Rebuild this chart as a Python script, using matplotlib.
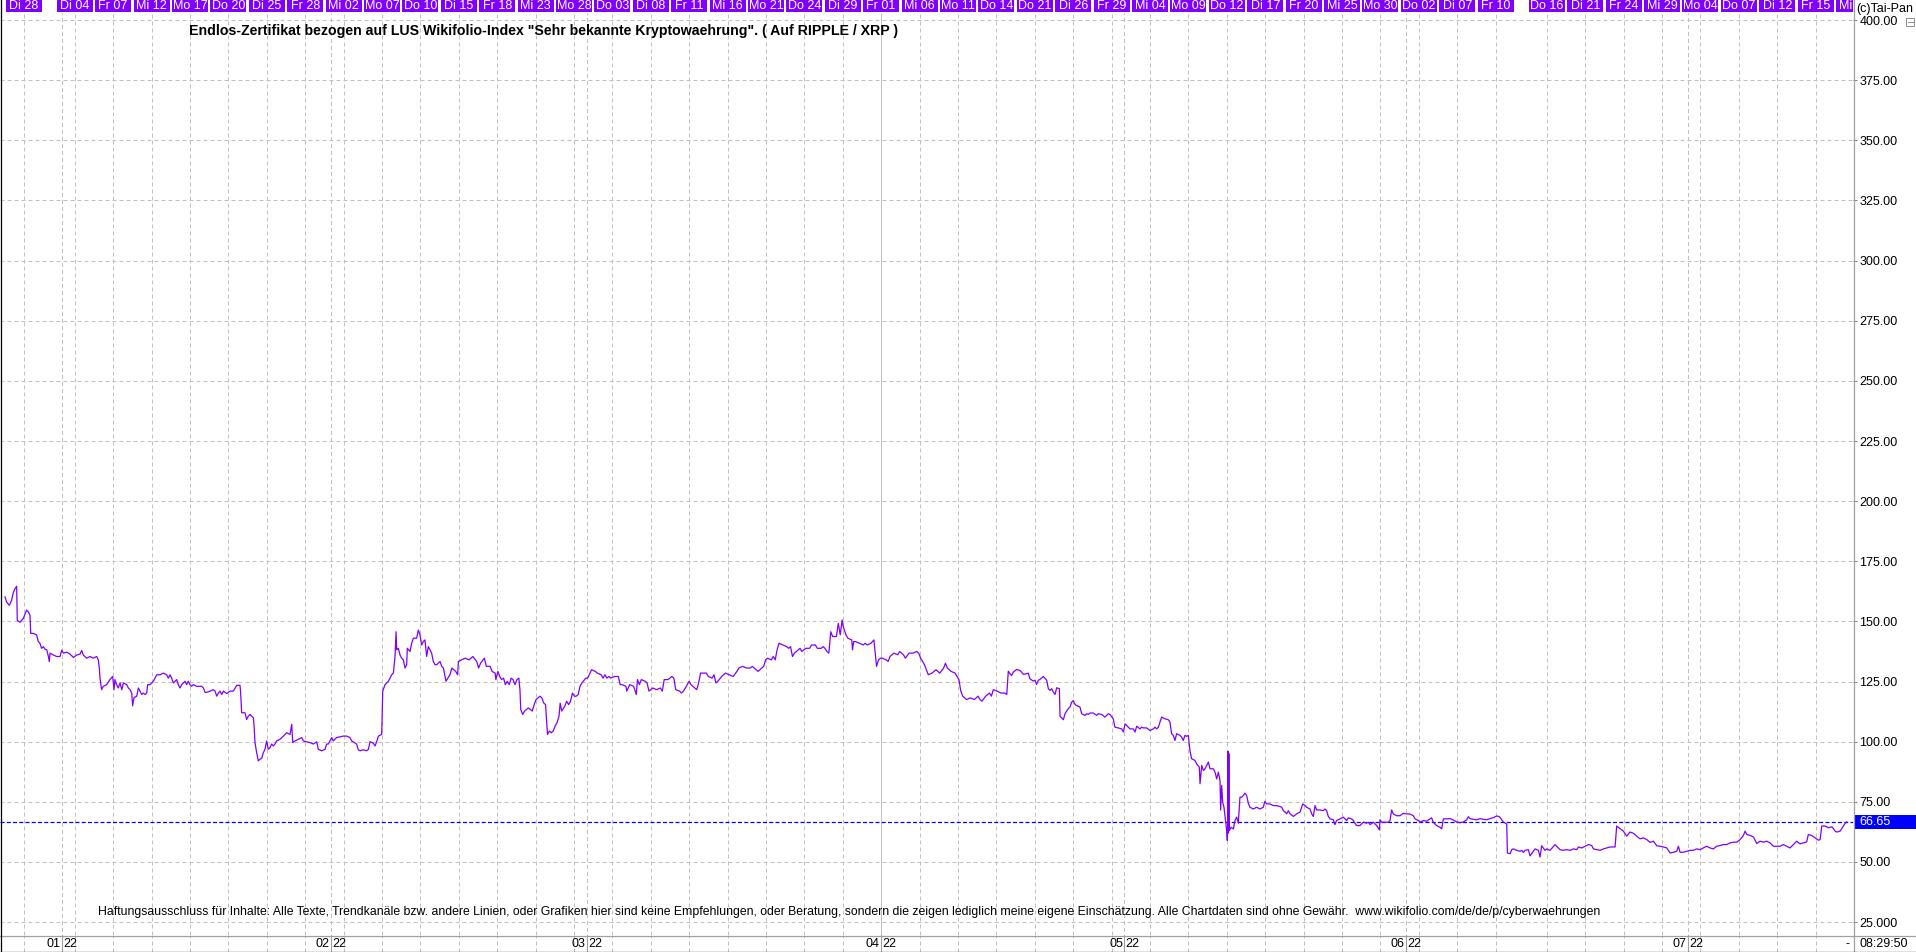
import numpy as np
import pandas as pd
import matplotlib
matplotlib.use("Agg")
import matplotlib.pyplot as plt
from matplotlib.patches import Rectangle
from matplotlib.lines import Line2D
import matplotlib.transforms as mtransforms

plt.rcParams["font.family"] = ["Liberation Sans", "DejaVu Sans"]

W, H = 1916, 952

# Handelskalender (Index 0 = 03.01.2022)
feiertage = ["2021-12-31", "2022-04-15", "2022-04-18"]
handelstage = pd.bdate_range("2021-12-27", "2022-07-22").difference(pd.to_datetime(feiertage))
start_tag = "2022-01-03"

# Datumsleiste oben (jeder dritte Handelstag)
leisten_daten = [
    "2021-12-28", "2022-01-04", "2022-01-07", "2022-01-12", "2022-01-17", "2022-01-20",
    "2022-01-25", "2022-01-28", "2022-02-02", "2022-02-07", "2022-02-10", "2022-02-15",
    "2022-02-18", "2022-02-23", "2022-02-28", "2022-03-03", "2022-03-08", "2022-03-11",
    "2022-03-16", "2022-03-21", "2022-03-24", "2022-03-29", "2022-04-01", "2022-04-06",
    "2022-04-11", "2022-04-14", "2022-04-21", "2022-04-26", "2022-04-29", "2022-05-04",
    "2022-05-09", "2022-05-12", "2022-05-17", "2022-05-20", "2022-05-25", "2022-05-30",
    "2022-06-02", "2022-06-07", "2022-06-10", "2022-06-16", "2022-06-21", "2022-06-24",
    "2022-06-29", "2022-07-04", "2022-07-07", "2022-07-12", "2022-07-15", "2022-07-20",
]
wochentage = ["Mo", "Di", "Mi", "Do", "Fr"]

# Kursverlauf: Position in Handelstagen ab 03.01.2022, Kurs
tage = [
    -4.45, -4.32, -4.11, -3.93, -3.80, -3.67, -3.54, -3.49, -3.28, -3.02, -2.76, -2.63, -2.50, -2.44,
    -2.24, -1.98, -1.85, -1.72, -1.59, -1.45, -1.32, -1.19, -1.06, -0.99, -0.93, -0.67, -0.41, -0.15,
    -0.02, 0.11, 0.37, 0.63, 0.89, 1.15, 1.41, 1.54, 1.67, 1.93, 2.19, 2.45, 2.71, 2.84, 2.92, 2.97,
    3.10, 3.23, 3.49, 3.75, 3.96, 4.07, 4.14, 4.27, 4.40, 4.54, 4.67, 4.80, 5.06, 5.19, 5.32, 5.45,
    5.52, 5.63, 5.84, 5.97, 6.10, 6.23, 6.36, 6.49, 6.62, 6.70, 6.88, 7.14, 7.40, 7.66, 7.92, 8.18,
    8.31, 8.44, 8.57, 8.70, 8.96, 9.09, 9.22, 9.35, 9.48, 9.61, 9.74, 9.87, 10.00, 10.13, 10.26,
    10.52, 10.79, 10.92, 11.05, 11.18, 11.31, 11.57, 11.83, 11.96, 12.09, 12.22, 12.35, 12.48,
    12.61, 12.87, 13.13, 13.39, 13.65, 13.91, 13.96, 14.04, 14.30, 14.43, 14.56, 14.69, 14.82,
    14.95, 15.00, 15.08, 15.21, 15.34, 15.47, 15.60, 15.73, 15.86, 15.99, 16.12, 16.25, 16.38,
    16.51, 16.64, 16.77, 17.04, 17.30, 17.56, 17.82, 17.95, 18.03, 18.21, 18.47, 18.73, 18.86,
    19.12, 19.38, 19.64, 19.90, 20.03, 20.29, 20.55, 20.68, 20.81, 21.07, 21.20, 21.46, 21.72,
    21.98, 22.24, 22.50, 22.63, 22.76, 23.02, 23.15, 23.28, 23.54, 23.80, 23.94, 24.07, 24.33,
    24.46, 24.59, 24.72, 24.98, 25.06, 25.24, 25.50, 25.63, 25.76, 25.89, 26.02, 26.10, 26.15,
    26.28, 26.41, 26.54, 26.67, 26.80, 26.93, 26.98, 27.19, 27.32, 27.45, 27.71, 27.84, 27.97,
    28.10, 28.23, 28.36, 28.49, 28.62, 28.75, 28.88, 29.01, 29.14, 29.27, 29.54, 29.67, 29.80,
    30.00,
    30.31, 30.46, 30.61, 30.76, 30.91, 30.97, 31.21, 31.51, 31.80, 32.10, 32.40, 32.55, 32.70,
    33.00, 33.15, 33.45, 33.60, 33.84, 33.90, 34.05, 34.20, 34.35, 34.50, 34.64, 34.79, 34.94,
    35.09, 35.24, 35.39, 35.54, 35.69, 35.78, 35.84, 35.99, 36.14, 36.29, 36.44, 36.59, 36.74,
    36.89, 37.04, 37.19, 37.34, 37.49, 37.63, 37.78, 37.93, 38.08, 38.23, 38.38, 38.53, 38.68,
    38.83, 38.92, 39.04, 39.28, 39.43, 39.58, 39.73, 39.88, 40.03, 40.18, 40.33, 40.47, 40.62,
    40.92, 41.07, 41.37, 41.67, 41.82, 42.12, 42.27, 42.42, 42.57, 42.72, 42.87, 43.16, 43.46,
    43.61, 43.76, 44.06, 44.12, 44.36, 44.66, 44.87, 44.96, 45.11, 45.26, 45.56, 45.71, 45.86,
    46.15, 46.45, 46.75, 46.90, 47.05, 47.35, 47.65, 47.80, 47.95, 48.25, 48.40, 48.55, 48.70,
    48.85, 49.00, 49.14, 49.44, 49.59, 49.74, 49.89, 50.34, 50.49, 50.79, 50.94, 51.09, 51.24,
    51.54, 51.83, 52.13, 52.43, 52.73, 52.88, 53.18, 53.48, 53.78, 53.93, 54.23, 54.38, 54.53,
    54.82, 54.97, 55.12, 55.42, 55.57, 55.72, 55.87, 56.02, 56.32, 56.62, 56.77, 56.92, 57.07,
    57.22, 57.52, 57.66, 57.81, 58.11, 58.41, 58.56, 58.86, 59.01, 59.31, 59.46, 59.61, 59.76,
    59.91, 60.06, 60.21, 60.50, 60.65, 60.80, 60.95, 61.04, 61.25, 61.40, 61.70, 61.76, 61.85,
    62.00, 62.30, 62.60, 62.75, 62.90, 63.20, 63.43, 63.55, 63.64, 63.79, 63.94, 64.09, 64.39,
    64.54, 64.69, 64.99, 65.29, 65.44, 65.59, 65.74, 65.89, 66.18, 66.48, 66.78, 66.93, 67.08,
    67.38, 67.53, 67.68, 67.98, 68.28, 68.58, 68.88, 69.02, 69.17, 69.47, 69.77, 70.07, 70.22,
    70.37, 70.67, 70.97, 71.27, 71.57, 71.72, 71.87, 72.16, 72.46, 72.61, 72.76, 73.06, 73.36,
    73.66, 73.81,
    73.93, 74.06, 74.19, 74.32, 74.58, 74.84, 74.97, 75.10, 75.36, 75.49, 75.62, 75.88, 76.01,
    76.14, 76.27, 76.41, 76.67, 76.93, 77.06, 77.19, 77.32, 77.45, 77.58, 77.71, 77.92, 77.97,
    78.10, 78.23, 78.36, 78.49, 78.62, 78.75, 78.88, 79.01, 79.14, 79.27, 79.53, 79.66, 79.92,
    80.05, 80.18, 80.31, 80.57, 80.83, 80.96, 81.22, 81.48, 81.61, 81.74, 81.87, 82.13, 82.26,
    82.52, 82.79, 82.92, 83.05, 83.18, 83.44, 83.70, 83.83, 83.96, 84.22, 84.35, 84.48, 84.74,
    85.00, 85.26, 85.39, 85.52, 85.65, 85.91, 86.17, 86.43, 86.56, 86.69, 86.82, 86.95, 87.08,
    87.34, 87.47, 87.60, 87.73, 87.86, 87.99, 88.12, 88.25, 88.51, 88.64, 88.85, 88.91, 89.04,
    89.17, 89.30, 89.43, 89.56, 89.69, 89.95, 90.08, 90.21, 90.34, 90.47, 90.52, 90.60, 90.68,
    90.78, 90.99, 91.04, 91.07, 91.10, 91.13, 91.16, 91.19, 91.33, 91.51, 91.64, 91.77, 91.90,
    92.03, 92.16, 92.29, 92.42, 92.55, 92.68, 92.81, 93.07, 93.33, 93.59, 93.85, 93.98, 94.11,
    94.37, 94.63, 94.90, 95.16, 95.29, 95.42, 95.55, 95.68, 95.81, 95.94, 96.20, 96.46, 96.72,
    96.93, 97.11, 97.24, 97.50, 97.63, 97.76, 97.89, 98.02, 98.28, 98.54, 98.67, 98.80, 98.93,
    99.06, 99.32, 99.45, 99.58, 99.84, 100.10, 100.36, 100.49, 100.75, 100.88, 101.01, 101.14,
    101.40, 101.66, 101.93, 102.06, 102.19, 102.45, 102.71, 102.92, 102.97, 103.10, 103.36,
    103.62, 103.75, 103.88, 104.01, 104.27, 104.53, 104.79, 105.05, 105.31, 105.57, 105.70,
    105.96, 106.09, 106.35, 106.61, 106.87, 107.00, 107.13, 107.39, 107.66, 107.79, 107.92,
    108.18,
    108.44, 108.70, 108.96, 109.22, 109.48, 109.74, 109.87, 110.00, 110.26, 110.52, 110.78,
    111.04, 111.30, 111.57, 111.83, 112.09, 112.29, 112.48, 112.61, 112.87, 112.92, 113.13,
    113.26, 113.39, 113.65, 113.91, 114.04, 114.17, 114.30, 114.56, 114.69, 114.95, 115.08,
    115.34, 115.47, 115.60, 115.86, 115.99, 116.25, 116.64, 116.77, 117.03, 117.29, 117.55,
    117.82, 118.08, 118.34, 118.47, 118.73, 118.99, 119.25, 119.51, 119.64, 119.90, 120.16,
    120.42, 120.68, 120.94, 121.33, 121.46, 121.72, 121.98, 122.24, 122.50, 122.76, 123.02,
    123.28, 123.54, 123.80, 124.07, 124.33, 124.59, 124.85, 125.11, 125.37, 125.63, 125.89,
    126.15, 126.28, 126.41, 126.67, 126.93, 127.19, 127.45, 127.71, 127.97, 128.23, 128.49,
    128.75, 129.01, 129.27, 129.53, 129.79, 130.05, 130.32, 130.58, 130.84, 131.10, 131.36,
    131.49, 131.62, 131.88, 132.14, 132.40, 132.66, 132.92, 133.18, 133.44, 133.57, 133.70,
    133.96, 134.22, 134.48, 134.74, 135.00, 135.26, 135.52, 135.78, 136.04, 136.30, 136.43,
    136.69, 136.95, 137.22, 137.35, 137.48, 137.74, 138.00, 138.26, 138.39, 138.52, 138.65,
    138.91, 139.04, 139.17, 139.30, 139.43,
]
kurs = [
    160.2, 158.0, 156.7, 158.8, 162.0, 163.6, 164.6, 150.5, 149.6, 151.2, 154.7, 154.0, 152.6, 145.0,
    145.0, 144.4, 141.6, 140.9, 138.8, 139.5, 138.4, 138.2, 135.4, 133.3, 136.8, 136.0, 135.4, 135.4,
    138.0, 136.8, 137.2, 136.4, 135.0, 136.0, 136.4, 137.9, 136.0, 134.7, 135.4, 134.7, 135.4, 134.0,
    130.6, 126.4, 121.6, 123.0, 123.7, 125.8, 127.1, 121.6, 125.8, 123.7, 122.3, 124.4, 121.6, 124.4,
    123.7, 122.3, 121.6, 120.2, 114.9, 118.3, 118.9, 122.3, 120.9, 119.6, 120.2, 119.6, 120.2, 123.7,
    123.7, 125.1, 127.8, 127.8, 128.5, 127.8, 126.4, 127.8, 126.4, 124.4, 125.8, 123.7, 122.3, 123.7,
    124.4, 125.1, 123.7, 125.1, 123.7, 123.0, 123.7, 123.0, 123.0, 123.0, 122.3, 120.5, 120.5, 121.0,
    121.6, 121.0, 118.9, 120.2, 121.0, 119.6, 121.0, 120.0, 121.0, 121.0, 123.4, 123.4, 120.2, 112.0,
    112.0, 109.2, 110.6, 111.3, 110.6, 109.9, 107.2, 99.6, 95.4, 92.0, 92.7, 93.0, 95.4, 96.8, 100.3,
    96.8, 97.5, 99.0, 98.2, 99.0, 100.3, 101.0, 102.3, 103.7, 103.0, 107.2, 99.6, 100.3, 101.0, 101.7,
    100.3, 99.9, 99.6, 99.0, 99.9, 96.8, 96.2, 96.8, 99.0, 99.0, 101.7, 100.3, 101.7, 102.0, 102.3,
    102.3, 101.7, 100.3, 99.9, 99.0, 96.6, 96.2, 96.6, 96.2, 96.8, 100.0, 99.3, 98.2, 100.0, 102.3,
    103.0, 121.0, 123.7, 125.1, 126.4, 127.8, 128.5, 135.4, 145.7, 138.2, 138.8, 136.0, 134.7, 134.0,
    130.6, 132.0, 138.8, 137.5, 140.9, 143.0, 143.0, 146.4, 144.4, 140.2, 141.6, 142.3, 135.4, 139.5,
    138.2, 136.8, 133.3, 132.0, 132.0, 133.3, 131.3, 130.6, 125.1,
    127.8, 130.6, 129.9, 129.2, 127.8, 133.3, 134.0, 134.7, 134.0, 135.4, 133.3, 130.6, 132.6, 134.7,
    131.3, 131.3, 129.2, 128.5, 125.8, 129.2, 127.1, 125.8, 126.4, 123.7, 125.1, 123.7, 126.4, 125.8,
    123.7, 125.8, 126.4, 121.6, 113.4, 111.3, 112.7, 113.4, 114.0, 113.4, 112.7, 115.4, 117.5, 118.2,
    118.9, 118.2, 116.1, 115.4, 103.0, 104.4, 103.7, 104.4, 106.5, 107.9, 110.6, 116.0, 112.7, 114.7,
    116.8, 115.4, 116.8, 120.2, 118.9, 118.9, 119.6, 123.0, 124.4, 126.4, 126.4, 129.9, 129.2, 128.5,
    127.8, 126.4, 127.8, 126.4, 127.1, 126.4, 127.1, 127.1, 123.7, 123.7, 123.0, 121.0, 123.7, 123.0,
    119.6, 125.8, 123.7, 125.8, 125.1, 124.4, 121.0, 122.3, 121.6, 122.3, 121.0, 125.8, 125.8, 127.1,
    126.4, 121.6, 121.0, 120.2, 121.0, 122.3, 123.7, 125.1, 123.7, 122.3, 121.6, 124.4, 128.5, 128.5,
    127.1, 126.4, 127.8, 124.4, 125.1, 127.1, 128.5, 127.8, 127.1, 129.2, 130.6, 131.3, 130.6, 130.6,
    131.3, 129.9, 129.2, 129.9, 131.3, 134.0, 134.7, 134.0, 135.4, 134.0, 138.2, 140.9, 140.2, 139.5,
    138.8, 139.5, 135.4, 136.8, 138.2, 138.8, 137.5, 138.8, 138.8, 140.2, 140.2, 138.8, 138.8, 139.5,
    138.8, 137.5, 136.8, 145.7, 143.7, 143.7, 149.2, 144.4, 150.6, 147.8, 144.4, 143.0, 142.3, 138.2,
    141.6, 141.6, 140.9, 140.2, 140.9, 140.2, 140.9, 142.3, 136.1, 131.3, 134.0, 134.7, 134.7, 134.0,
    133.3, 135.4, 136.8, 136.1, 137.5, 136.8, 136.1, 134.7, 136.8, 136.8, 137.5, 136.8, 134.7, 132.0,
    129.9, 127.8, 128.5, 129.9, 128.5, 130.6, 132.6, 130.6, 129.2, 128.5, 125.8, 121.0, 118.9, 117.5,
    118.2, 117.5, 118.9, 117.5, 116.8, 118.9, 120.2, 118.9, 121.6, 121.0, 120.2, 120.2, 119.6,
    129.3, 128.2, 127.5, 128.9, 130.0, 129.6, 128.9, 128.0, 128.2, 128.5, 126.1, 125.2, 125.5, 123.8,
    125.5, 125.9, 127.1, 125.5, 122.0, 121.3, 122.0, 120.6, 119.6, 122.4, 122.0, 110.5, 109.9, 109.1,
    111.6, 112.7, 113.7, 114.4, 116.4, 117.1, 115.5, 115.0, 114.4, 111.6, 110.9, 111.6, 111.3, 111.9,
    111.9, 110.9, 111.6, 111.3, 110.2, 110.9, 111.6, 111.3, 109.5, 106.0, 105.7, 105.3, 104.0, 107.4,
    106.7, 105.3, 105.3, 104.0, 106.4, 105.3, 106.0, 105.7, 105.7, 104.6, 105.3, 106.0, 105.3, 106.0,
    110.2, 109.5, 109.1, 108.1, 103.3, 102.6, 100.5, 103.3, 102.6, 101.9, 100.5, 102.6, 102.2, 102.6,
    96.3, 92.9, 92.2, 90.8, 89.4, 82.5, 90.1, 88.0, 88.7, 90.1, 91.5, 88.7, 88.7, 87.3, 84.5, 87.3,
    83.8, 71.6, 81.8, 74.8, 72.7, 63.0, 58.9, 64.4, 96.0, 62.0, 95.0, 63.0, 64.4, 63.7, 67.2, 68.6,
    66.1, 76.9, 76.9, 77.6, 78.6, 77.6, 74.4, 72.7, 72.0, 72.7, 72.0, 72.7, 75.2, 74.1, 74.1, 73.4,
    73.4, 73.0, 72.7, 71.3, 70.7, 70.0, 71.3, 70.0, 68.9, 70.0, 70.7, 74.1, 73.4, 72.7, 72.0, 70.0,
    68.9, 73.4, 71.6, 71.6, 71.3, 72.0, 71.3, 68.9, 67.9, 67.5, 65.5, 67.2, 67.9, 68.6, 67.2, 68.3,
    67.9, 67.2, 66.1, 65.1, 65.1, 66.5, 66.1, 66.5, 65.5, 66.5, 65.1, 63.3, 67.5, 66.5, 66.5, 66.5,
    67.2, 71.6, 69.9, 69.2, 69.2, 70.2, 69.9, 69.9, 69.2, 67.9, 67.2, 66.5, 67.2, 66.9, 67.9, 68.3,
    66.5, 65.1, 64.4, 63.7, 67.9, 67.9,
    68.0, 67.4, 66.6, 66.3, 66.6, 67.5, 68.8, 68.0, 67.7, 67.5, 68.0, 67.7, 67.5, 68.0, 68.4, 69.1,
    68.8, 67.5, 66.6, 65.7, 53.7, 53.4, 55.1, 55.4, 54.8, 54.4, 54.8, 53.9, 54.8, 55.1, 52.5, 54.4,
    55.4, 54.8, 52.0, 56.7, 54.8, 55.4, 54.8, 57.2, 56.5, 55.1, 54.8, 55.1, 54.8, 55.4, 55.1, 56.2,
    55.8, 56.5, 57.2, 56.8, 55.4, 55.1, 54.8, 55.4, 55.8, 56.2, 56.2, 64.9, 63.8, 62.8, 60.7, 62.4,
    61.9, 60.7, 59.6, 60.0, 59.3, 58.1, 58.6, 56.7, 56.5, 56.2, 55.8, 53.7, 54.0, 54.4, 56.5, 54.0,
    54.0, 54.4, 54.8, 54.8, 55.4, 55.1, 55.8, 56.5, 55.8, 55.4, 56.5, 56.8, 57.2, 57.2, 57.9, 58.2,
    58.2, 59.3, 61.0, 62.8, 61.4, 61.0, 60.4, 57.6, 58.6, 58.2, 58.6, 57.9, 57.2, 56.5, 56.5, 56.5,
    57.2, 56.5, 55.8, 57.2, 58.6, 57.5, 57.9, 58.3, 61.4, 61.0, 60.0, 59.0, 59.3, 64.9, 64.9, 64.2,
    64.6, 63.8, 62.8, 62.4, 62.8, 63.8, 64.9, 66.0, 66.65,
]
letzter_kurs = 66.65

y_ticks = [25, 50, 75, 100, 125, 150, 175, 200, 225, 250, 275, 300, 325, 350, 375, 400]
y_labels = ["25.000"] + ["%.2f" % v for v in y_ticks[1:]]

titel = ('Endlos-Zertifikat bezogen auf LUS Wikifolio-Index "Sehr bekannte Kryptowaehrung". '
         '( Auf RIPPLE / XRP )')
hinweis = ("Haftungsausschluss für Inhalte: Alle Texte, Trendkanäle bzw. andere Linien, oder Grafiken "
           "hier sind keine Empfehlungen, oder Beratung, sondern die zeigen lediglich meine eigene "
           "Einschätzung. Alle Chartdaten sind ohne Gewähr.  www.wikifolio.com/de/de/p/cyberwaehrungen")

LILA = "#8000ff"
GRID = "#c0c0c0"
RAND = "#a0a0a0"


def tag_index(d):
    return handelstage.get_loc(pd.Timestamp(d)) - handelstage.get_loc(pd.Timestamp(start_tag))


def fx(px):
    return px / W


def fy(py):
    return 1 - py / H


fig = plt.figure(figsize=(W / 100, H / 100), dpi=100)
fig.patch.set_facecolor("white")

xlim = (-4.84, 139.92)
plot_w = 1853

ax = fig.add_axes([0, fy(935), fx(plot_w), fy(13) - fy(935)])
top = fig.add_axes([0, fy(12), fx(plot_w), fy(0) - fy(12)])
bot = fig.add_axes([0, 0, fx(plot_w), fy(935)])
for a in (ax, top, bot):
    a.set_xlim(*xlim)
    for s in a.spines.values():
        s.set_visible(False)
    a.set_facecolor("none")
top.set_ylim(0, 1)
bot.set_ylim(0, 1)
top.axis("off")
bot.set_xticks([])
bot.set_yticks([])

ax.set_ylim(19.6, 402.96)
ax.set_xticks([])
ax.set_yticks(y_ticks, y_labels)
ax.yaxis.tick_right()
ax.tick_params(axis="y", length=3, width=0.72, color="#808080", pad=1.5, labelsize=9)
ax.grid(axis="y", color=GRID, lw=0.72, ls=(0, (4, 3)))

grid_ls = (0, (4, 3))
leisten_pos = [tag_index(d) for d in leisten_daten]
for k in leisten_pos:
    ax.axvline(k, color=GRID, lw=0.72, ls=grid_ls, zorder=0)
    bot.axvline(k, color=GRID, lw=0.72, ls=grid_ls, zorder=0)

# Monatswechsel
tage_ser = handelstage.to_series()
monat_start = tage_ser.groupby(handelstage.to_period("M")).first()
monat_start = monat_start[monat_start >= pd.Timestamp(start_tag)]
for d in monat_start:
    k = tag_index(d)
    ax.axvline(k, color=GRID, lw=0.72, ls=(3.5, (4, 3)), zorder=0)
    bot.axvline(k, color=RAND, lw=0.8, zorder=1)
    bot.annotate("%02d" % d.month, (k, 0.45), xytext=(-1, 0), textcoords="offset points",
                 ha="right", va="center", fontsize=9)
    bot.annotate("%02d" % (d.year % 100), (k, 0.45), xytext=(1, 0), textcoords="offset points",
                 ha="left", va="center", fontsize=9)

# Datumsleiste
box_w = 36 * (xlim[1] - xlim[0]) / plot_w
for d, k in zip(leisten_daten, leisten_pos):
    ts = pd.Timestamp(d)
    top.add_patch(Rectangle((k - box_w / 2, 0), box_w, 1, color=LILA, lw=0))
    top.text(k, 0.5, "%s %02d" % (wochentage[ts.weekday()], ts.day), color="white",
             ha="center", va="center", fontsize=9, clip_on=True)

# Kurslinie
ax.plot(tage, kurs, color=LILA, lw=0.9, zorder=3)
ax.axhline(letzter_kurs, color="#0000ff", lw=0.9, ls=(0, (3.2, 1.8)), zorder=2)

trans = mtransforms.blended_transform_factory(ax.transAxes, ax.transData)
box_h = 14 * (402.96 - 19.6) / (935 - 13)
ax.add_patch(Rectangle((1 + 1 / plot_w, letzter_kurs - box_h / 2), 63 / plot_w, box_h,
                       transform=trans, color="#0000ff", lw=0, clip_on=False, zorder=5))
ax.text(1 + 6 / plot_w, letzter_kurs, "%.2f" % letzter_kurs, transform=trans, color="white",
        fontsize=9, va="center", ha="left", zorder=6, clip_on=False)

# Texte
fig.text(fx(189), fy(30.5), titel, fontsize=10.2, fontweight="bold", va="center", ha="left")
fig.text(fx(98), fy(912), hinweis, fontsize=8.87, va="center", ha="left")
fig.text(fx(1856), fy(9), "(c)Tai-Pan", fontsize=9, va="center", ha="left")
fig.text(fx(1859), fy(944), "08:29:50", fontsize=9, va="center", ha="left")
fig.text(fx(1845), fy(944), "-", fontsize=9, va="center", ha="left")

# Rahmenlinien
fig.add_artist(Line2D([fx(1853.5), fx(1853.5)], [0, 1], color=RAND, lw=0.9))
fig.add_artist(Line2D([0, 1], [fy(935.5), fy(935.5)], color=RAND, lw=0.9))
fig.add_artist(Line2D([fx(0.5), fx(0.5)], [0, 1], color="black", lw=0.9))
fig.add_artist(Line2D([0, 1], [fy(951.5), fy(951.5)], color="black", lw=0.9))
fig.add_artist(Rectangle((fx(1906), fy(26)), fx(8), fy(18) - fy(26), fill=False,
                         edgecolor="#909090", lw=0.7))
fig.add_artist(Line2D([fx(1907.5), fx(1912.5)], [fy(22), fy(22)], color="#909090", lw=0.7))

fig.savefig("out.png", dpi=100)
